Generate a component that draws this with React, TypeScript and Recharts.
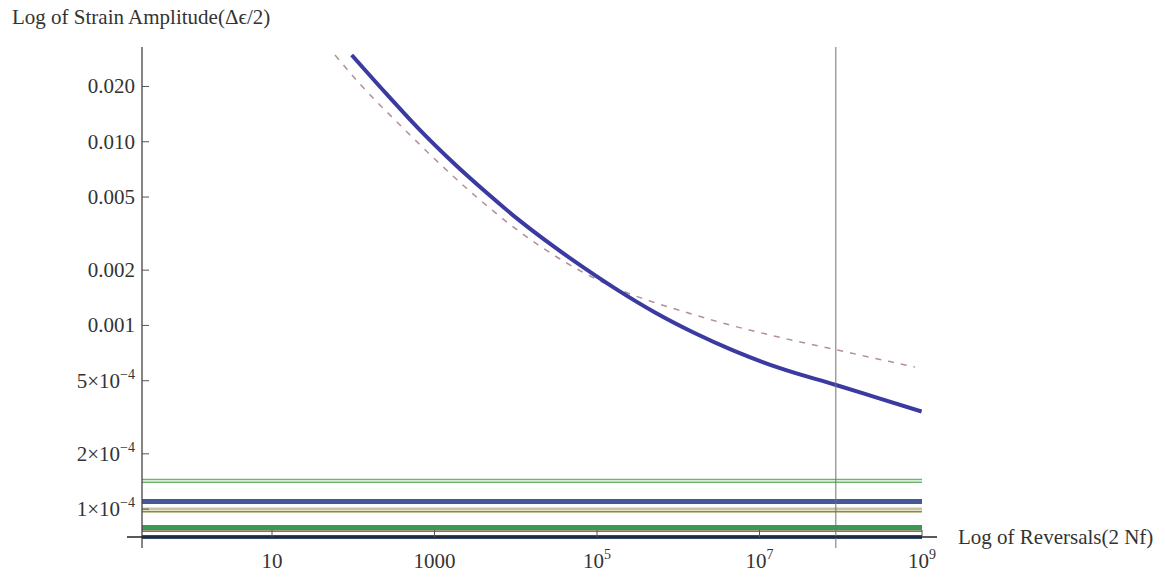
import React from 'react';
import { LineChart, Line, XAxis, YAxis, ReferenceLine } from 'recharts';

// axis ranges (log scales)
const X_MIN = Math.pow(10, -0.6);
const X_MAX = 1e9;
const Y_MIN = 7.05e-5;
const Y_MAX = 0.0328;

const xTicks = [10, 1000, 1e5, 1e7, 1e9];
const xTickLabels = ['10', '1000', '10^5', '10^7', '10^9'];
const yTicks = [1e-4, 2e-4, 5e-4, 0.001, 0.002, 0.005, 0.01, 0.02];
const yTickLabels = ['1×10^−4', '2×10^−4', '5×10^−4', '0.001', '0.002', '0.005', '0.010', '0.020'];

// total strain-life curve (solid)
const totalReversals = [95.7, 258, 663, 1703, 4388, 11280, 28970, 74650, 176200, 517600, 1.563e6, 4.72e6, 1.786e7, 8.75e7, 3.04e8, 9.9e8];
const totalStrain = [0.02966, 0.01815, 0.01156, 0.00768, 0.00527, 0.003707, 0.0027, 0.002013, 0.001567, 0.001177, 0.000913, 0.000732, 0.000585, 0.000474, 0.0003996, 0.00034];

// fitted curve (dashed)
const fitReversals = [59.6, 121, 376, 1169, 3631, 11280, 35060, 82030, 191900, 448800, 1.396e6, 4.335e6, 1.346e7, 8.99e7, 8.2e8];
const fitStrain = [0.02966, 0.02063, 0.01234, 0.007566, 0.004819, 0.003226, 0.0023, 0.001858, 0.001559, 0.001358, 0.001161, 0.001005, 0.000887, 0.000735, 0.000594];

// constant strain levels
const levelValues = [1.45e-4, 1.4e-4, 1.1e-4, 1.0e-4, 0.967e-4, 0.791e-4, 0.757e-4, 0.705e-4];
const levelColors = ['#6db56d', '#6db56d', '#44589c', '#c9c49c', '#8a8a3a', '#3a9a55', '#a06a5a', '#2e4a6e'];
const levelWidths = [1.6, 1.6, 5, 3, 1.5, 5.5, 1.5, 4];

const cutoffReversals = 8.7e7;

const FONT = '"Liberation Serif", "DejaVu Serif", serif';
const TEXT = '#333';

const totalData = totalReversals.map((x, i) => ({ x, y: totalStrain[i] }));
const fitData = fitReversals.map((x, i) => ({ x, y: fitStrain[i] }));
const levelData = levelValues.map((v) => [{ x: X_MIN, y: v }, { x: X_MAX, y: v }]);

const renderLabel = (label: string, x: number, y: number, anchor: 'end' | 'middle') => {
  const [base, sup] = label.split('^');
  return (
    <text x={x} y={y} textAnchor={anchor} fontFamily={FONT} fontSize={21} fill={TEXT}>
      {base}
      {sup && (
        <tspan dy={-9} fontSize={14}>
          {sup}
        </tspan>
      )}
    </text>
  );
};

const YTick = (props: any) => {
  const { x, y, index } = props;
  return (
    <g>
      <line x1={x} x2={x + 7} y1={y} y2={y} stroke="#555" strokeWidth={1} />
      {renderLabel(yTickLabels[index], x - 7, y + 7, 'end')}
    </g>
  );
};

const XTick = (props: any) => {
  const { x, y, index } = props;
  return (
    <g>
      <line x1={x} x2={x} y1={y} y2={y - 7} stroke="#555" strokeWidth={1} />
      {renderLabel(xTickLabels[index], x, y + 31, 'middle')}
    </g>
  );
};

// small extensions of the axes past the plot box
const xExtLo = X_MIN / Math.pow(10, 15 / 81.25);
const xExtHi = X_MAX * Math.pow(10, 15 / 81.25);
const yExtLo = Y_MIN / Math.pow(10, 11 / 183.7);

export default function App() {
  return (
    <div style={{ position: 'absolute', left: 0, top: 0, width: 1165, height: 577, background: '#fff' }}>
      <LineChart width={1165} height={577} margin={{ top: 47, right: 243, bottom: 0, left: 0 }}>
        <XAxis
          dataKey="x"
          type="number"
          scale="log"
          domain={[X_MIN, X_MAX]}
          allowDataOverflow
          ticks={xTicks}
          interval={0}
          tick={<XTick />}
          tickSize={0}
          tickMargin={0}
          tickLine={false}
          axisLine={false}
          height={40}
        />
        <YAxis
          dataKey="y"
          type="number"
          scale="log"
          domain={[Y_MIN, Y_MAX]}
          ticks={yTicks}
          interval={0}
          tick={<YTick />}
          tickSize={0}
          tickMargin={0}
          tickLine={false}
          axisLine={false}
          width={142}
        />
        {levelData.map((d, i) => (
          <Line
            key={i}
            data={d}
            dataKey="y"
            stroke={levelColors[i]}
            strokeWidth={levelWidths[i]}
            dot={false}
            activeDot={false}
            isAnimationActive={false}
          />
        ))}
        <Line
          data={fitData}
          dataKey="y"
          type="monotone"
          stroke="#b0909a"
          strokeWidth={1.5}
          strokeDasharray="6 7"
          dot={false}
          activeDot={false}
          isAnimationActive={false}
        />
        <Line
          data={totalData}
          dataKey="y"
          type="monotone"
          stroke="#3a3aa0"
          strokeWidth={4}
          dot={false}
          activeDot={false}
          isAnimationActive={false}
        />
        <ReferenceLine
          segment={[{ x: cutoffReversals, y: Y_MAX }, { x: cutoffReversals, y: yExtLo }]}
          stroke="#707070"
          strokeWidth={1}
          ifOverflow="visible"
        />
        <ReferenceLine
          segment={[{ x: X_MIN, y: Y_MAX }, { x: X_MIN, y: yExtLo }]}
          stroke="#444"
          strokeWidth={1.3}
          ifOverflow="visible"
        />
        <ReferenceLine
          segment={[{ x: xExtLo, y: Y_MIN }, { x: xExtHi, y: Y_MIN }]}
          stroke="#222"
          strokeWidth={1.3}
          ifOverflow="visible"
        />
      </LineChart>
      <svg width={1165} height={577} style={{ position: 'absolute', left: 0, top: 0, pointerEvents: 'none' }}>
        <text x={12} y={24} fontFamily={FONT} fontSize={21} fill={TEXT}>
          Log of Strain Amplitude(Δϵ/2)
        </text>
        <text x={958} y={544} fontFamily={FONT} fontSize={21} fill={TEXT}>
          Log of Reversals(2 Nf)
        </text>
      </svg>
    </div>
  );
}
